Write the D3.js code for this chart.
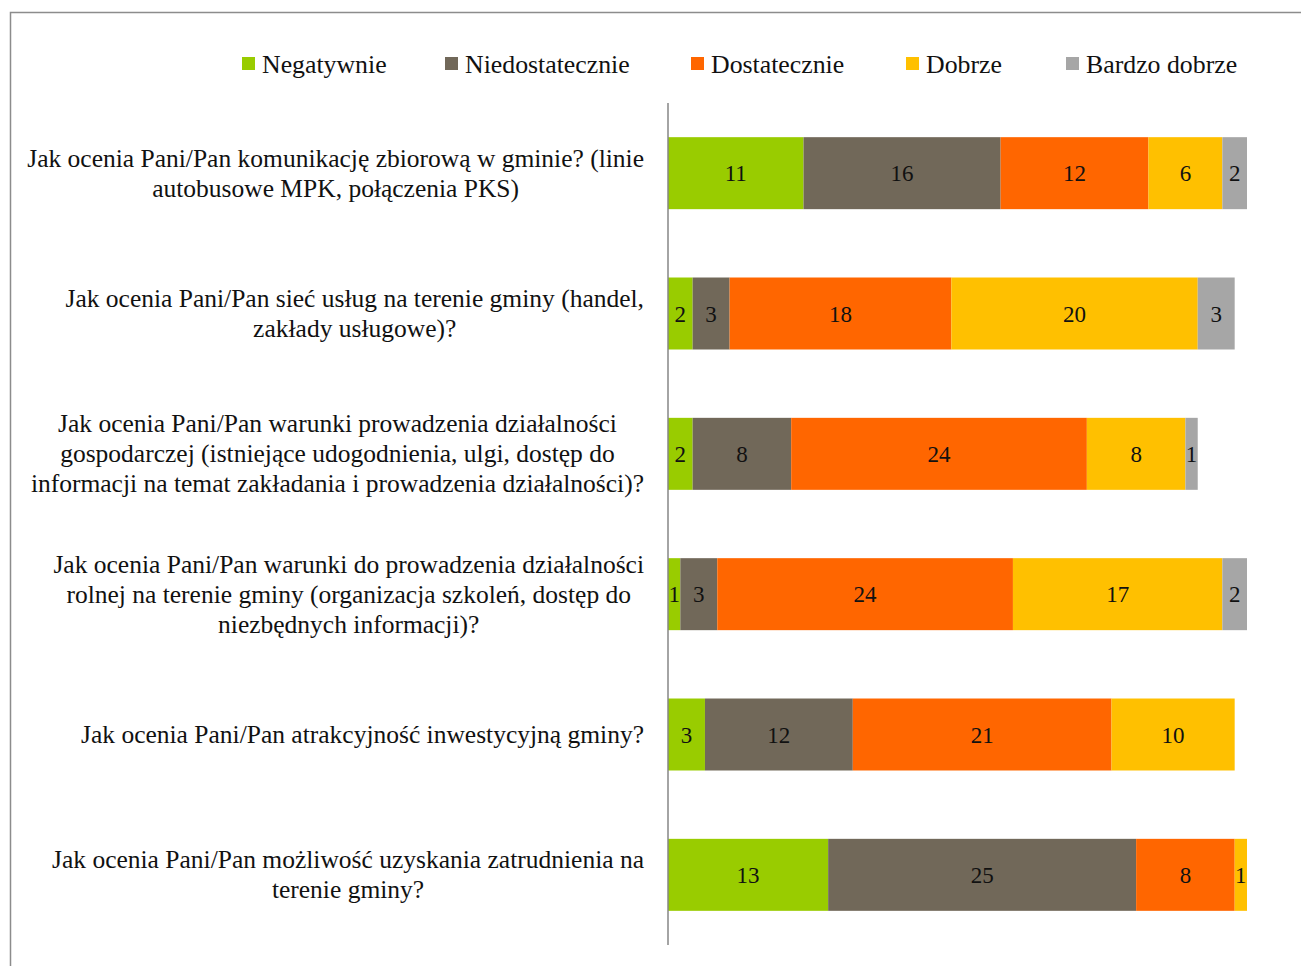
<!DOCTYPE html>
<html>
<head>
<meta charset="utf-8">
<script src="https://cdn.jsdelivr.net/npm/d3@7"></script>
<style>
  html, body { margin: 0; padding: 0; background: #fff; }
  svg { display: block; }
  text { font-family: "Liberation Serif", "DejaVu Serif", serif; fill: #111; }
</style>
</head>
<body>
<svg id="chart" width="1301" height="966"></svg>
<script>
// Questions (each entry is a list of wrapped lines)
const questions = [
  ["Jak ocenia Pani/Pan komunikację zbiorową w gminie? (linie", "autobusowe MPK, połączenia PKS)"],
  ["Jak ocenia Pani/Pan sieć usług na terenie gminy (handel,", "zakłady usługowe)?"],
  ["Jak ocenia Pani/Pan warunki prowadzenia działalności", "gospodarczej (istniejące udogodnienia, ulgi, dostęp do", "informacji na temat zakładania i prowadzenia działalności)?"],
  ["Jak ocenia Pani/Pan warunki do prowadzenia działalności", "rolnej na terenie gminy (organizacja szkoleń, dostęp do", "niezbędnych informacji)?"],
  ["Jak ocenia Pani/Pan atrakcyjność inwestycyjną gminy?"],
  ["Jak ocenia Pani/Pan możliwość uzyskania zatrudnienia na", "terenie gminy?"]
];

const seriesNames = ["Negatywnie", "Niedostatecznie", "Dostatecznie", "Dobrze", "Bardzo dobrze"];
const seriesColors = ["#99CC00", "#716859", "#FF6600", "#FFC000", "#A6A6A6"];

// Answer counts per series, one value per question
const negatywnie      = [11, 2, 2, 1, 3, 13];
const niedostatecznie = [16, 3, 8, 3, 12, 25];
const dostatecznie    = [12, 18, 24, 24, 21, 8];
const dobrze          = [6, 20, 8, 17, 10, 1];
const bardzoDobrze    = [2, 3, 1, 2, 0, 0];

const seriesValues = [negatywnie, niedostatecznie, dostatecznie, dobrze, bardzoDobrze];

const rows = questions.map((q, i) => {
  const r = { id: i };
  seriesNames.forEach((s, k) => { r[s] = seriesValues[k][i]; });
  return r;
});

const stacked = d3.stack().keys(seriesNames)(rows);

const svg = d3.select("#chart");

// outer frame
svg.append("path")
  .attr("d", "M10.5,966 L10.5,12.5 L1301,12.5")
  .attr("fill", "none").attr("stroke", "#8c8c8c").attr("stroke-width", 1.5);

const x = d3.scaleLinear().domain([0, 47]).range([668, 1247]);
const y = d3.scaleBand().domain(d3.range(questions.length)).range([103, 945])
  .paddingInner(0.487).paddingOuter(0.2435);

// stacked bars with value labels
const g = svg.append("g");
stacked.forEach((layer, k) => {
  const segs = layer.filter(d => d[1] - d[0] > 0);
  g.selectAll(null).data(segs).enter()
    .append("rect")
    .attr("x", d => x(d[0]))
    .attr("y", d => y(d.data.id))
    .attr("width", d => x(d[1]) - x(d[0]))
    .attr("height", y.bandwidth())
    .attr("fill", seriesColors[k]);
  g.selectAll(null).data(segs).enter()
    .append("text")
    .attr("x", d => (x(d[0]) + x(d[1])) / 2)
    .attr("y", d => y(d.data.id) + y.bandwidth() / 2)
    .attr("dy", "0.35em")
    .attr("text-anchor", "middle")
    .attr("font-size", 23)
    .text(d => d[1] - d[0]);
});

// vertical axis line
svg.append("line")
  .attr("x1", 668).attr("x2", 668).attr("y1", 103).attr("y2", 945)
  .attr("stroke", "#868686").attr("stroke-width", 1.5);

// category labels: lines centered within a block whose right edge sits at 644
const lineH = 30;
questions.forEach((lines, i) => {
  const cy = y(i) + y.bandwidth() / 2;
  const t = svg.append("text").attr("font-size", 25.5).attr("text-anchor", "middle");
  const spans = lines.map((ln, j) => t.append("tspan")
    .attr("y", cy + (j - (lines.length - 1) / 2) * lineH)
    .attr("dy", "0.33em")
    .text(ln));
  const maxW = d3.max(spans, s => s.node().getComputedTextLength());
  spans.forEach(s => s.attr("x", 644 - maxW / 2));
});

// legend
const legendX = [242, 445, 691, 906, 1066];
seriesNames.forEach((s, k) => {
  svg.append("rect").attr("x", legendX[k]).attr("y", 57).attr("width", 13).attr("height", 13)
    .attr("fill", seriesColors[k]);
  svg.append("text").attr("x", legendX[k] + 20).attr("y", 64).attr("dy", "0.33em")
    .attr("font-size", 25.8).text(s);
});
</script>
</body>
</html>
